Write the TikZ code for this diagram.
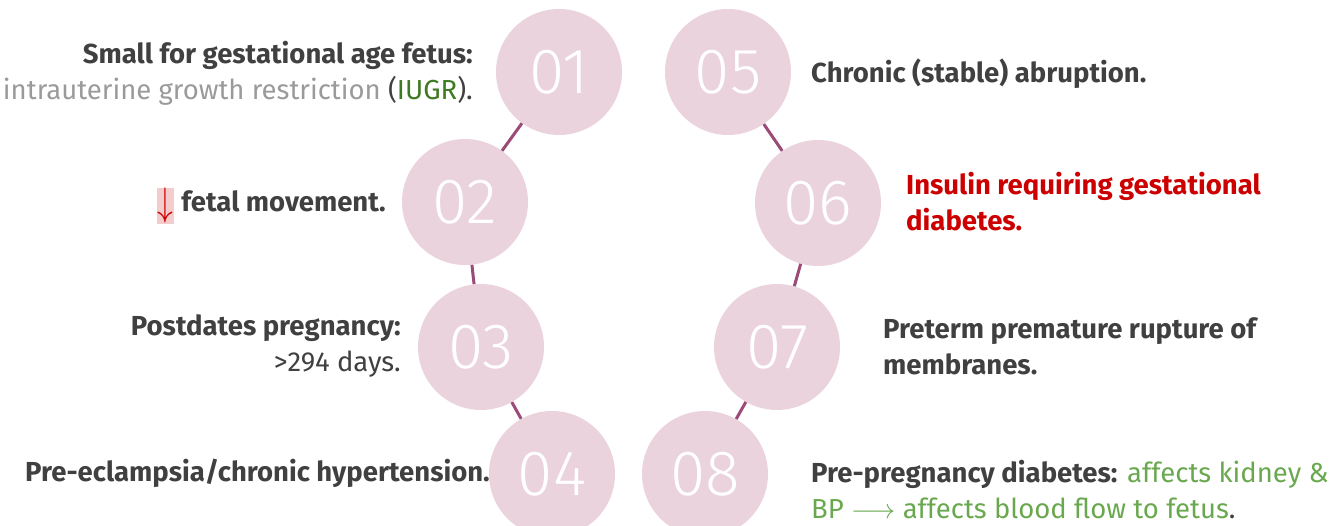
\documentclass[tikz,border=0pt]{standalone}
\usepackage{fix-cm}
\usepackage{fontspec}
\setmainfont{Fira Sans}
\newfontfamily\numfont{Fira Sans Light}
\usepackage{xcolor}
\definecolor{pinkfill}{HTML}{EBD3DE}
\definecolor{linkcol}{HTML}{9C4A78}
\definecolor{darktxt}{HTML}{404040}
\definecolor{greytxt}{HTML}{9A9A9A}
\definecolor{iugrgreen}{HTML}{3D7A22}
\definecolor{redtxt}{HTML}{CC0000}
\definecolor{lightgreen}{HTML}{6AA84F}
\definecolor{hilite}{HTML}{F4CCCC}
\tikzset{
  bubble/.style={circle,fill=pinkfill,minimum size=126pt,inner sep=0pt,
    text=white,font=\numfont\fontsize{64}{64}\selectfont},
  link/.style={linkcol,line width=3pt},
  lefttxt/.style={anchor=east,align=right,text=darktxt,
    font=\fontsize{27.5}{36}\selectfont,inner sep=0pt},
  righttxt/.style={anchor=west,align=left,text=darktxt,
    font=\fontsize{27.5}{36}\selectfont,inner sep=0pt}
}
\setlength{\fboxsep}{0.5pt}
\begin{document}
\begin{tikzpicture}[x=1pt,y=-1pt]
\clip (0,0) rectangle (1344,526);
\useasboundingbox (0,0) rectangle (1344,526);
% bubbles
\node[bubble] (c1) at (559,72) {01};
\node[bubble] (c2) at (465,202) {02};
\node[bubble] (c3) at (481,347) {03};
\node[bubble] (c4) at (552,474) {04};
\node[bubble] (c5) at (728,72) {05};
\node[bubble] (c6) at (818,203) {06};
\node[bubble] (c7) at (777,347) {07};
\node[bubble] (c8) at (705,474) {08};
\draw[link] (c1)--(c2) (c2)--(c3) (c3)--(c4);
\draw[link] (c5)--(c6) (c6)--(c7) (c7)--(c8);
% left side
\node[lefttxt] (t1) at (473,73) {\textbf{Small for gestational age fetus:}\\
  \textcolor{greytxt}{intrauterine growth restriction }(\textcolor{iugrgreen}{IUGR}).};
\node[lefttxt,anchor=base east] (t2) at (386,212) {\colorbox{hilite}{\raisebox{-4pt}{\scalebox{1.15}[1.45]{\textcolor{redtxt}{$\downarrow$}}}} \textbf{fetal movement.}};
\node[lefttxt] (t3) at (401,346) {\textbf{Postdates pregnancy:}\\ >294 days.};
\node[lefttxt] (t4) at (490,473) {\textbf{Pre-eclampsia/chronic hypertension.}};
% right side
\node[righttxt] (t5) at (811,74) {\textbf{Chronic (stable) abruption.}};
\node[righttxt,text=redtxt] (t6) at (906,202) {\textbf{Insulin requiring gestational}\\ \textbf{diabetes.}};
\node[righttxt] (t7) at (883,346) {\textbf{Preterm premature rupture of}\\ \textbf{membranes.}};
\node[righttxt] (t8) at (811,490) {\textbf{Pre-pregnancy diabetes:} \textcolor{lightgreen}{affects kidney \&}\\
  \textcolor{lightgreen}{BP $\longrightarrow$ affects blood flow to fetus}.};
\end{tikzpicture}
\end{document}
